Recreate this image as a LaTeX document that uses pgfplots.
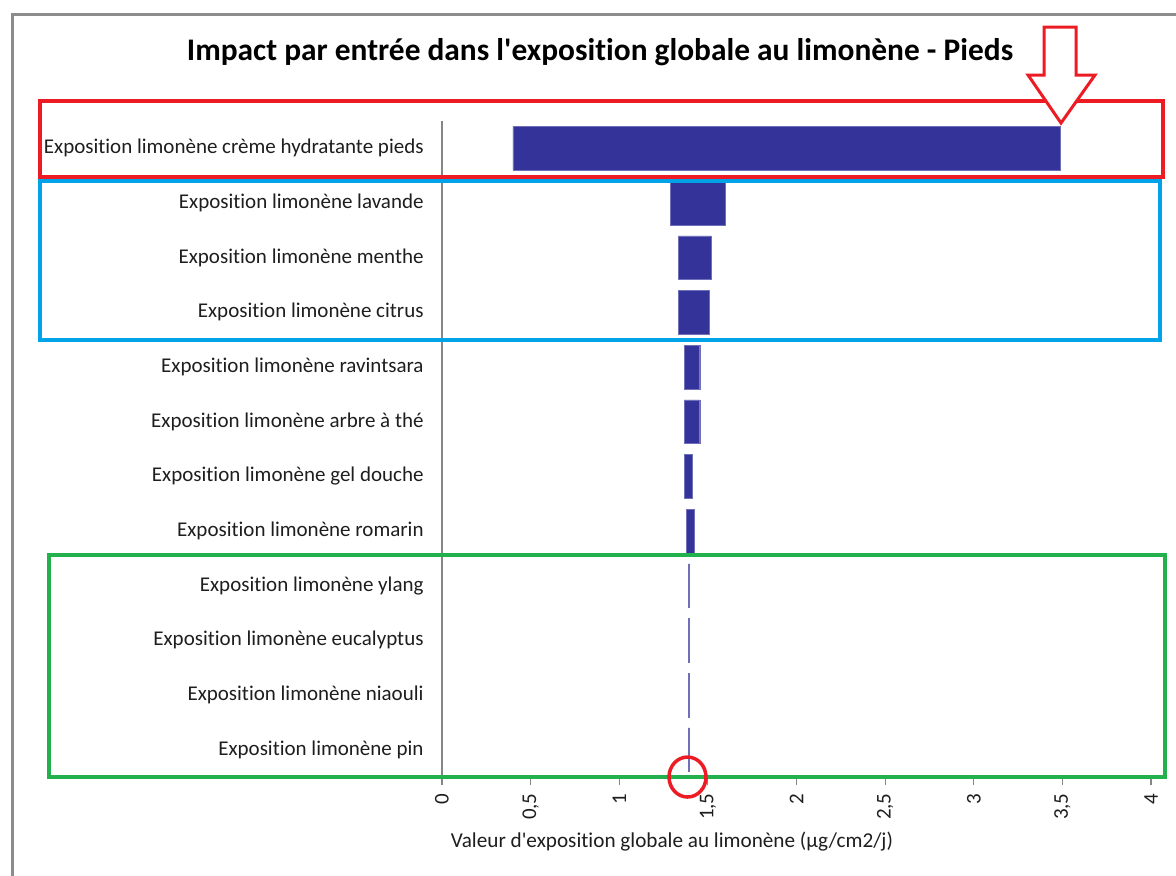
\documentclass[border=0pt]{standalone}
\usepackage{fontspec}
\setmainfont{Carlito}[Ligatures={TeXOff,CommonOff}]
\usepackage{pgfplots}
\usepackage{pgfplotstable}
\pgfplotsset{compat=1.18}
\definecolor{barblue}{RGB}{51,51,153}
\definecolor{axisgray}{RGB}{134,134,134}
\definecolor{framegray}{RGB}{140,140,140}
\definecolor{txt}{RGB}{30,30,30}
\definecolor{annred}{RGB}{237,28,36}
\definecolor{annblue}{RGB}{0,162,232}
\definecolor{anngreen}{RGB}{34,177,76}
\pgfplotstableread{
y low high
11 0.400 3.490
10 1.288 1.597
9 1.334 1.520
8 1.334 1.508
7 1.366 1.454
6 1.366 1.454
5 1.366 1.413
4 1.377 1.422
3 1.388 1.397
2 1.388 1.397
1 1.388 1.397
0 1.388 1.397
}\data
\newcommand\lab{\fontsize{10.5}{12.5}\selectfont}
\begin{document}
\begin{tikzpicture}
\useasboundingbox (0,0) rectangle (588pt,-437.5pt);
\begin{axis}[
  at={(221pt,-388.5pt)}, anchor=south west,
  scale only axis, width=354.5pt, height=328pt,
  xmin=0, xmax=4, ymin=-0.5, ymax=11.5,
  xbar stacked, bar width=0.8,
  axis x line*=bottom, axis y line*=left,
  axis line style={-, draw=axisgray, line width=0.6pt},
  xtick={0,0.5,...,4},
  /pgf/number format/use comma,
  /pgf/number format/assume math mode=true,
  xticklabel style={rotate=90, anchor=east, inner sep=0pt, font=\lab, text=txt},
  xticklabel shift=4pt,
  tick align=outside, major tick length=4pt,
  xtick style={draw=axisgray, line width=0.6pt},
  ytick={0,...,11},
  ytick style={draw=none},
  yticklabels={Exposition limonène pin, Exposition limonène niaouli, Exposition limonène eucalyptus, Exposition limonène ylang, Exposition limonène romarin, Exposition limonène gel douche, Exposition limonène arbre à thé, Exposition limonène ravintsara, Exposition limonène citrus, Exposition limonène menthe, Exposition limonène lavande, Exposition limonène crème hydratante pieds},
  yticklabel style={font=\lab, text=txt, inner sep=0pt, xshift=-5pt},
  clip=false,
]
\addplot[draw=none, fill=none] table[x=low, y=y] {\data};
\addplot[fill=barblue, draw=barblue!70, line width=0.2pt] table[x expr=\thisrow{high}-\thisrow{low}, y=y] {\data};
\end{axis}
\begin{scope}[x=0.5pt, y=-0.5pt]
  \node[font=\fontsize{15.7}{19}\selectfont\bfseries, text=black] at (600,52) {Impact par entrée dans l'exposition globale au limonène - Pieds};
  \node[font=\fontsize{10.6}{12.5}\selectfont, text=txt] at (672,842) {Valeur d'exposition globale au limonène (µg/cm2/j)};
  \draw[framegray, line width=1.5pt] (12,880) -- (12,14) -- (1180,14);
  \draw[annred, line width=1.75pt] (40,101) rectangle (1163,177);
  \draw[annblue, line width=2pt] (40,181) rectangle (1160,340);
  \draw[anngreen, line width=2pt] (49,555) rectangle (1165,777);
  \draw[annred, fill=white, line width=1.5pt, line join=miter] (1044,27) -- (1076,27) -- (1076,75) -- (1095,75) -- (1061,123) -- (1028,75) -- (1044,75) -- cycle;
  \draw[annred, line width=1.75pt] (687.5,777) ellipse [x radius=18.5, y radius=20];
\end{scope}
\end{tikzpicture}
\end{document}
